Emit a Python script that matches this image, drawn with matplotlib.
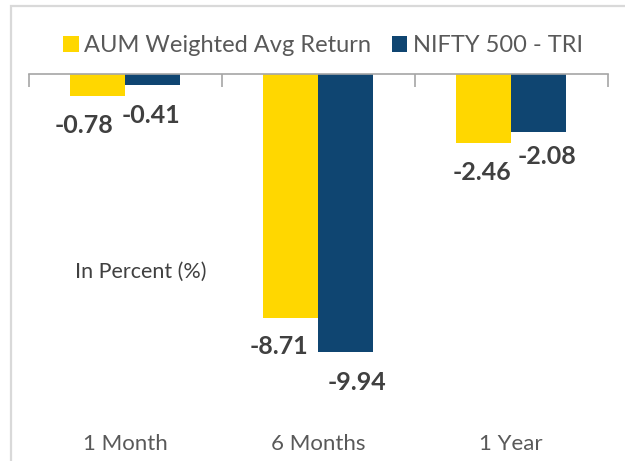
import numpy as np
import matplotlib
matplotlib.use("Agg")
import matplotlib.pyplot as plt
from matplotlib.patches import Rectangle

categories = ["1 Month", "6 Months", "1 Year"]
aum_return = [-0.78, -8.71, -2.46]
nifty_return = [-0.41, -9.94, -2.08]
series_names = ["AUM Weighted Avg Return", "NIFTY 500 - TRI"]

# label nudges in pixels (the source chart had hand-placed labels)
aum_dx = [-13, -11, -1]
nifty_dx = [-2, 11, 8]
nifty_dy = [-30, -30, -24]
aum_dy = [-30, -29, -30]

YELLOW = "#FFD700"
BLUE = "#0F4571"
GREY_TXT = "#595959"
DARK_TXT = "#404040"

plt.rcParams['font.family'] = ['Lato', 'DejaVu Sans']

fig = plt.figure(figsize=(6.25, 4.61), dpi=100)
ax = fig.add_axes([28.5 / 625, 51 / 461, 579 / 625, 336 / 461])

x = np.arange(len(categories))
w = 0.285
b1 = ax.bar(x - w / 2, aum_return, width=w, color=YELLOW, label=series_names[0])
b2 = ax.bar(x + w / 2, nifty_return, width=w, color=BLUE, label=series_names[1])

for rect, v, dx, dy in zip(b1, aum_return, aum_dx, aum_dy):
    ax.annotate(f"{v:.2f}", (rect.get_x() + rect.get_width() / 2, v),
                xytext=(dx, dy), textcoords='offset pixels', ha='center', va='center',
                fontsize=18, fontweight='bold', color=DARK_TXT)
for rect, v, dx, dy in zip(b2, nifty_return, nifty_dx, nifty_dy):
    ax.annotate(f"{v:.2f}", (rect.get_x() + rect.get_width() / 2, v),
                xytext=(dx, dy), textcoords='offset pixels', ha='center', va='center',
                fontsize=18, fontweight='bold', color=DARK_TXT)

ax.set_xlim(-0.5, len(categories) - 0.5)
ax.set_ylim(-12, 0)
ax.set_yticks([])
for s in ['left', 'right', 'bottom']:
    ax.spines[s].set_visible(False)
ax.spines['top'].set_color('#A6A6A6')
ax.spines['top'].set_linewidth(1.2)

ax.set_xticks(x, categories)
ax.tick_params(axis='x', length=0, pad=17, labelsize=16, labelcolor=GREY_TXT)

top = ax.secondary_xaxis('top')
top.set_xticks(np.arange(len(categories) + 1) - 0.5)
top.set_xticklabels([])
top.tick_params(direction='in', length=9, width=1.2, color='#A6A6A6')
top.spines['top'].set_visible(False)

ax.text(75 / 579 - 28.5 / 579, 0.41, "In Percent (%)", transform=ax.transAxes,
        fontsize=15.5, color=DARK_TXT, va='center', ha='left')

fig.legend(loc='center', bbox_to_anchor=(323 / 625, 1 - 46 / 461), ncol=2, frameon=False,
           fontsize=17, labelcolor=GREY_TXT, handlelength=0.65, handleheight=0.65,
           handletextpad=0.25, columnspacing=0.85)

fig.patches.append(Rectangle((11 / 625, -0.1), 1.2, 1.1 - 6 / 461, transform=fig.transFigure,
                             fill=False, edgecolor='#D9D9D9', linewidth=1.6))

fig.savefig("out.png", dpi=100)
